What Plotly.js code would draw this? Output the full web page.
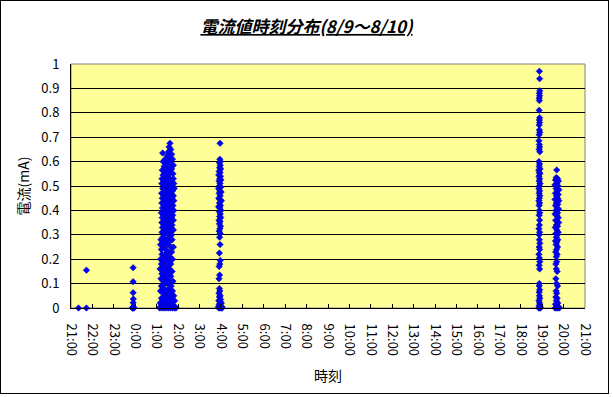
<!DOCTYPE html>
<html>
<head>
<meta charset="utf-8">
<script src="https://cdn.plot.ly/plotly-3.0.1.min.js"></script>
<style>
  html, body { margin: 0; padding: 0; background: #ffffff; }
  #wrap { position: relative; width: 613px; height: 397px; }
  #chart { position: absolute; left: 0; top: 0; width: 613px; height: 397px; }
  #frame { position: absolute; left: 0; top: 0; width: 607px; height: 392px; border: 1px solid #000; pointer-events: none; }
</style>
</head>
<body>
<div id="wrap"><div id="chart"></div><div id="frame"></div></div>
<script>
// Hours on a continuous clock: 21 = 21:00 on 8/9, 24 = 0:00, 45 = 21:00 on 8/10
const tickHours = [21,22,23,24,25,26,27,28,29,30,31,32,33,34,35,36,37,38,39,40,41,42,43,44,45];
const tickLabels = ["21:00","22:00","23:00","0:00","1:00","2:00","3:00","4:00","5:00","6:00","7:00","8:00","9:00","10:00","11:00","12:00","13:00","14:00","15:00","16:00","17:00","18:00","19:00","20:00","21:00"];

// Evening scattered points (21:20 - 0:00)
const eveTime = [21.35, 21.72, 21.72, 23.90, 23.90, 23.90, 23.91, 23.90, 23.88, 23.92, 23.86, 23.94, 23.90];
const eveCurrent = [0, 0, 0.155, 0.165, 0.108, 0.063, 0.037, 0.022, 0, 0, 0, 0, 0.005];

// Main cluster around 1:10 - 1:50
const mainTime = [
  25.62,25.58,25.66,25.55,25.28,25.70,25.50,25.62,25.40,25.74,
  25.55,25.30,25.66,25.45,25.78,25.35,25.58,25.70,25.26,25.48,
  25.62,25.40,25.76,25.30,25.53,
  25.25,25.42,25.60,25.78,
  25.33,25.50,25.68,
  25.24,25.45,25.62,25.80,
  25.36,25.55,25.72,
  25.28,25.47,25.64,25.82,
  25.38,25.57,25.74,
  25.23,25.44,25.66,
  25.33,25.52,25.78,
  25.26,25.42,25.60,25.72,
  25.36,25.55,25.80,
  25.24,25.47,25.66,
  25.34,25.58,25.76,
  25.27,25.45,25.68,
  25.38,25.55,25.80,
  25.22,25.48,25.64,
  25.32,25.57,25.75,
  25.26,25.44,25.68,
  25.37,25.54,25.78,
  25.24,25.46,25.62,
  25.33,25.56,25.72,
  25.27,25.42,25.66,
  25.36,25.52,25.78,
  25.25,25.47,25.62,
  25.34,25.56,25.70,
  25.28,25.60,
  25.20,25.45,25.72,
  25.35,25.58,
  25.18,25.50,
  25.30,25.66,25.78,
  25.22,25.42,
  25.55,25.70,
  25.25,25.38,
  25.48,25.62,
  25.18,25.30,25.74,
  25.40,25.56,
  25.22,25.66,
  25.34,25.50,
  25.16,25.28,25.60,
  25.44,25.72,
  25.24,25.56,
  25.36,25.66,
  25.20,25.48,
  25.30,25.60,25.76,
  25.42,25.52,
  25.22,25.68,
  25.34,25.58,
  25.18,25.46,25.74,
  25.30,25.62,
  25.40,25.54,25.80,
  25.22,25.48,25.70,
  25.32,25.60,25.84,
  25.16,25.44,25.66,
  25.26,25.52,25.76,
  25.18,25.38,25.58,25.86,
  25.14,25.24,25.34,25.44,25.54,25.64,25.74,25.84,25.90
];
const mainCurrent = [
  0.675,0.66,0.65,0.64,0.635,0.63,0.625,0.62,0.61,0.61,
  0.60,0.60,0.595,0.59,0.585,0.58,0.575,0.57,0.565,0.565,
  0.555,0.55,0.55,0.545,0.54,
  0.53,0.53,0.53,0.53,
  0.52,0.52,0.52,
  0.51,0.51,0.51,0.51,
  0.50,0.50,0.50,
  0.49,0.49,0.49,0.49,
  0.48,0.48,0.48,
  0.47,0.47,0.47,
  0.46,0.46,0.46,
  0.45,0.45,0.45,0.45,
  0.44,0.44,0.44,
  0.43,0.43,0.43,
  0.42,0.42,0.42,
  0.41,0.41,0.41,
  0.40,0.40,0.40,
  0.39,0.39,0.39,
  0.38,0.38,0.38,
  0.37,0.37,0.37,
  0.36,0.36,0.36,
  0.35,0.35,0.35,
  0.34,0.34,0.34,
  0.33,0.33,0.33,
  0.32,0.32,0.32,
  0.31,0.31,0.31,
  0.30,0.30,0.30,
  0.29,0.29,
  0.28,0.28,0.28,
  0.27,0.27,
  0.26,0.26,
  0.25,0.25,0.25,
  0.24,0.24,
  0.23,0.23,
  0.22,0.22,
  0.21,0.21,
  0.20,0.20,0.20,
  0.19,0.19,
  0.18,0.18,
  0.17,0.17,
  0.16,0.16,0.16,
  0.15,0.15,
  0.14,0.14,
  0.13,0.13,
  0.12,0.12,
  0.11,0.11,0.11,
  0.10,0.10,
  0.09,0.09,
  0.08,0.08,
  0.07,0.07,0.07,
  0.06,0.06,
  0.05,0.05,0.05,
  0.04,0.04,0.04,
  0.03,0.03,0.03,
  0.02,0.02,0.02,
  0.01,0.01,0.01,
  0.005,0.005,0.005,0.005,
  0,0,0,0,0,0,0,0,0
];

// Cluster around 4:00
const fourTime = [
  27.96,27.95,27.98,27.93,27.97,27.94,27.99,27.92,27.96,27.90,
  27.98,27.94,28.00,27.91,27.96,27.93,27.99,27.89,27.95,28.01,
  27.92,27.97,27.90,27.95,28.02,27.93,27.98,27.89,27.95,28.00,
  27.92,27.97,27.94,27.99,27.91,27.96,27.93,27.98,27.95,27.92,
  27.97,27.94,27.96,27.93,27.97,27.95,27.92,27.94,27.91,27.93,
  27.95,27.91,27.97,27.93,27.99,27.90,27.96,28.02,27.92,27.98,
  27.88,27.94,28.04,27.90,27.96,28.02,28.06
];
const fourCurrent = [
  0.675,0.61,0.60,0.595,0.585,0.575,0.57,0.56,0.555,0.545,
  0.54,0.53,0.525,0.52,0.51,0.50,0.495,0.49,0.48,0.475,
  0.47,0.46,0.45,0.445,0.44,0.43,0.42,0.415,0.41,0.40,
  0.395,0.385,0.375,0.37,0.36,0.355,0.345,0.335,0.325,0.315,
  0.305,0.29,0.26,0.225,0.195,0.18,0.17,0.135,0.12,0.08,
  0.07,0.06,0.05,0.045,0.035,0.03,0.025,0.02,0.015,0.01,
  0.005,0.005,0.005,0,0,0,0
];

// Cluster around 18:50
const nineteenTime = [
  42.87,42.88,42.89,42.87,42.88,42.86,42.87,42.86,42.88,42.87,
  42.88,42.86,42.87,42.89,42.86,42.85,42.87,42.88,42.86,42.89,
  42.85,42.88,42.86,42.90,42.84,42.87,42.89,42.85,42.88,42.86,
  42.90,42.87,42.85,42.88,42.86,42.89,42.87,42.85,42.88,42.86,
  42.87,42.89,42.86,42.88,42.87,42.85,42.88,42.86,42.87,42.89,
  42.86,42.88,42.85,42.87,42.89,42.86,42.88,42.87,42.86,42.88,
  42.86,42.87,42.89,42.85,42.88,42.86,42.90,42.84,42.88,42.92
];
const nineteenCurrent = [
  0.97,0.94,0.89,0.88,0.87,0.86,0.85,0.81,0.78,0.77,
  0.76,0.75,0.73,0.72,0.71,0.685,0.67,0.66,0.65,0.64,
  0.60,0.59,0.58,0.57,0.565,0.555,0.55,0.54,0.53,0.52,
  0.51,0.50,0.49,0.48,0.47,0.46,0.45,0.44,0.43,0.42,
  0.40,0.39,0.38,0.36,0.34,0.325,0.31,0.30,0.28,0.265,
  0.25,0.24,0.22,0.205,0.19,0.175,0.16,0.10,0.09,0.075,
  0.065,0.05,0.04,0.03,0.02,0.01,0.005,0,0,0
];

// Cluster around 19:40
const twentyTime = [
  43.68,43.66,43.72,43.62,43.76,43.68,43.60,43.74,43.65,43.78,
  43.70,43.62,43.75,43.67,43.72,43.60,43.78,43.66,43.73,43.62,
  43.70,43.77,43.64,43.72,43.60,43.68,43.75,43.63,43.70,43.77,
  43.66,43.72,43.61,43.69,43.75,43.64,43.71,43.66,43.73,43.62,
  43.69,43.65,43.72,43.67,43.63,43.70,43.66,43.68,43.64,43.66,
  43.70,43.64,43.67,43.72,43.65,43.68,43.64,43.70,43.66,43.73,
  43.62,43.69,43.76,43.60,43.66,43.72,43.80
];
const twentyCurrent = [
  0.566,0.535,0.53,0.525,0.52,0.51,0.505,0.50,0.49,0.485,
  0.48,0.47,0.465,0.46,0.45,0.445,0.44,0.43,0.425,0.42,
  0.41,0.405,0.40,0.39,0.385,0.38,0.37,0.36,0.355,0.35,
  0.34,0.335,0.33,0.32,0.31,0.305,0.30,0.29,0.28,0.275,
  0.27,0.26,0.25,0.24,0.23,0.22,0.21,0.19,0.18,0.16,
  0.15,0.12,0.10,0.09,0.07,0.06,0.045,0.04,0.03,0.02,
  0.015,0.01,0.005,0,0,0,0
];

const allTime = [].concat(eveTime, mainTime, fourTime, nineteenTime, twentyTime);
const allCurrent = [].concat(eveCurrent, mainCurrent, fourCurrent, nineteenCurrent, twentyCurrent);

const jp = '"Noto Sans CJK JP", "Noto Sans", sans-serif';

const trace = {
  type: 'scatter',
  mode: 'markers',
  x: allTime,
  y: allCurrent,
  cliponaxis: false,
  marker: { symbol: 'diamond', size: 5, color: '#0000ff', line: { width: 0.5, color: '#000099' } },
  hoverinfo: 'x+y'
};

const layout = {
  width: 613,
  height: 397,
  margin: { l: 71, r: 28, t: 64, b: 89 },
  paper_bgcolor: '#ffffff',
  plot_bgcolor: '#ffff99',
  showlegend: false,
  font: { family: jp, color: '#000000', size: 12 },
  title: {
    text: '電流値時刻分布(8/9～8/10)',
    font: { family: jp, size: 17, weight: 'bold', style: 'italic', lineposition: 'under', color: '#000000' },
    x: 0.5, xref: 'container', xanchor: 'center',
    y: 0.932, yref: 'container', yanchor: 'middle'
  },
  xaxis: {
    range: [21, 45],
    tickmode: 'array',
    tickvals: tickHours,
    ticktext: tickLabels,
    tickangle: 90,
    ticks: 'inside',
    ticklen: 4,
    tickcolor: '#000000',
    ticklabelstandoff: 12,
    showgrid: false,
    zeroline: false,
    showline: true,
    linecolor: '#000000',
    linewidth: 1,
    tickfont: { family: jp, size: 13 },
    title: { text: '時刻', font: { family: jp, size: 14 }, standoff: 16 }
  },
  yaxis: {
    range: [0, 1],
    dtick: 0.1,
    tick0: 0,
    ticks: '',
    showgrid: true,
    gridcolor: '#000000',
    gridwidth: 1,
    zeroline: false,
    showline: true,
    linecolor: '#000000',
    linewidth: 1,
    ticklabelstandoff: 8,
    tickfont: { family: jp, size: 13 },
    title: { text: '電流(mA)', font: { family: jp, size: 14 }, standoff: 8 }
  },
  shapes: [
    { type: 'rect', xref: 'paper', yref: 'paper', x0: 0, x1: 1, y0: 0, y1: 1,
      line: { color: '#808080', width: 1 }, layer: 'below' }
  ]
};

Plotly.newPlot('chart', [trace], layout, { displayModeBar: false, staticPlot: true });
</script>
</body>
</html>
